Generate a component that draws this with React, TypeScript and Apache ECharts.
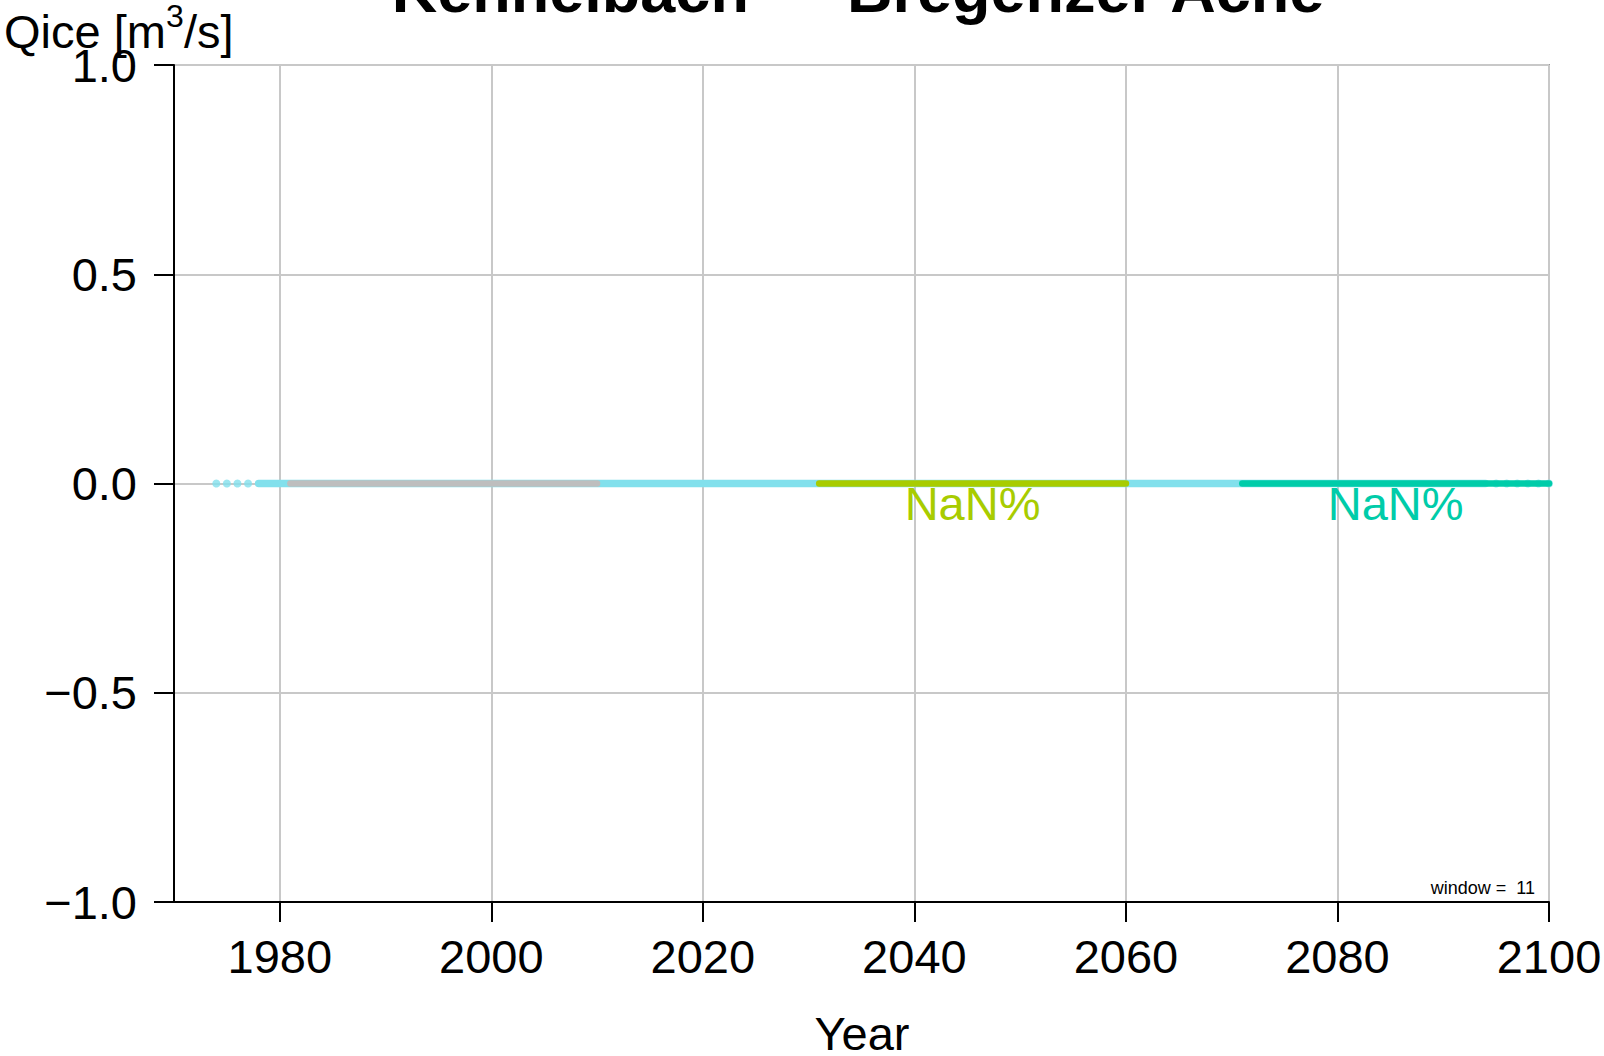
import React, { useEffect, useRef } from "react";
import * as echarts from "echarts";

// ---- data ----
const xTickYears = [1980, 2000, 2020, 2040, 2060, 2080, 2100];
const movingAvgYears = [1978, 2094];
const movingAvgValues = [0, 0];
const edgePointYears = [1974, 1975, 1976, 1977, 2095, 2096, 2097, 2098, 2099, 2100];
const edgePointValues = [0, 0, 0, 0, 0, 0, 0, 0, 0, 0];
const periodNames = ["1981-2010", "2031-2060", "2071-2100"];
const periodStart = [1981, 2031, 2071];
const periodEnd = [2010, 2060, 2100];
const periodMean = [0, 0, 0];
const changeLabelYears = [2045.5, 2085.5];
const changeLabelValues = [0, 0];
const changeLabelTexts = ["NaN%", "NaN%"];
const windowText = "window =  11";

// ---- styles ----
const FONT = "'Liberation Sans', Arial, Helvetica, sans-serif";
const CYAN = "#82e0ec";
const PERIOD_COLORS = ["#bebebe", "#a8cc00", "#00cca9"];
const LABEL_COLORS = ["#a8cc00", "#00cca9"];

function txt(text: string, x: number, y: number, size: number, align: string, extra: any = {}) {
  return {
    type: "text",
    x,
    y,
    silent: true,
    style: {
      text,
      fill: "#000",
      fontSize: size,
      fontFamily: FONT,
      align,
      verticalAlign: "middle",
      textAlign: align,
      textVerticalAlign: "middle",
      ...extra,
    },
  };
}

export default function App() {
  const ref = useRef<HTMLDivElement>(null);

  useEffect(() => {
    if (!ref.current) return;
    const chart = echarts.init(ref.current, null, { renderer: "svg" });

    const periodSeries = periodNames.map((name, i) => ({
      name,
      type: "line",
      data: [
        [periodStart[i], periodMean[i]],
        [periodEnd[i], periodMean[i]],
      ],
      showSymbol: false,
      symbol: "none",
      silent: true,
      z: 4 + i,
      lineStyle: { color: PERIOD_COLORS[i], width: 6.5, cap: "round" },
    }));

    const option: any = {
      animation: false,
      backgroundColor: "#ffffff",
      grid: {
        left: 174,
        right: 55,
        top: 65,
        bottom: 154,
        show: true,
        borderColor: "#9a9a9a",
        borderWidth: 2,
        containLabel: false,
        outerBoundsMode: "none",
      },
      xAxis: {
        type: "value",
        min: 1970,
        max: 2100,
        axisLine: { show: true, onZero: false, lineStyle: { color: "#000", width: 2 } },
        axisTick: {
          show: true,
          length: 20,
          customValues: xTickYears,
          lineStyle: { color: "#000", width: 2 },
        },
        axisLabel: {
          customValues: xTickYears,
          fontSize: 47,
          fontFamily: FONT,
          color: "#000",
          margin: 31,
          hideOverlap: false,
          formatter: (v: number) => String(Math.round(v)),
        },
        splitLine: { show: true, lineStyle: { color: "#c8c8c8", width: 2 } },
      },
      yAxis: {
        type: "value",
        min: -1,
        max: 1,
        interval: 0.5,
        axisLine: { show: true, onZero: false, lineStyle: { color: "#000", width: 2 } },
        axisTick: { show: true, length: 20, lineStyle: { color: "#000", width: 2 } },
        axisLabel: {
          fontSize: 47,
          fontFamily: FONT,
          color: "#000",
          margin: 37,
          formatter: (v: number) => v.toFixed(1).replace("-", "\u2212"),
        },
        splitLine: { show: true, lineStyle: { color: "#c8c8c8", width: 2 } },
      },
      series: [
        {
          name: "moving average",
          type: "line",
          data: movingAvgYears.map((y, i) => [y, movingAvgValues[i]]),
          showSymbol: false,
          symbol: "none",
          silent: true,
          z: 2,
          lineStyle: { color: CYAN, width: 7.5, cap: "round" },
        },
        {
          name: "edge points",
          type: "scatter",
          data: edgePointYears.map((y, i) => [y, edgePointValues[i]]),
          symbolSize: 8,
          silent: true,
          z: 2,
          itemStyle: { color: CYAN },
        },
        ...periodSeries,
        {
          name: "change",
          type: "scatter",
          silent: true,
          z: 10,
          symbolSize: 1,
          itemStyle: { color: "rgba(0,0,0,0)" },
          data: changeLabelYears.map((y, i) => ({
            value: [y, changeLabelValues[i]],
            label: {
              show: true,
              formatter: changeLabelTexts[i],
              color: LABEL_COLORS[i],
            },
          })),
          label: {
            show: true,
            position: "inside",
            offset: [0, 20],
            fontSize: 47,
            fontFamily: FONT,
            textBorderWidth: 0,
            textBorderColor: "transparent",
            opacity: 1,
          },
        },
      ],
      graphic: [
        txt("Kennelbach \u2014 Bregenzer Ache", 858, -10, 63, "center", { fontWeight: "bold" }),
        txt("Qice [m", 4, 31, 47, "left"),
        txt("3", 166, 16, 32, "left"),
        txt("/s]", 184, 31, 47, "left"),
        txt("Year", 862, 1033, 47, "center"),
        txt(windowText, 1535, 888, 18, "right"),
      ],
    };

    chart.setOption(option);
    return () => chart.dispose();
  }, []);

  return (
    <div
      ref={ref}
      style={{ position: "absolute", left: 0, top: 0, width: 1604, height: 1056 }}
    />
  );
}
